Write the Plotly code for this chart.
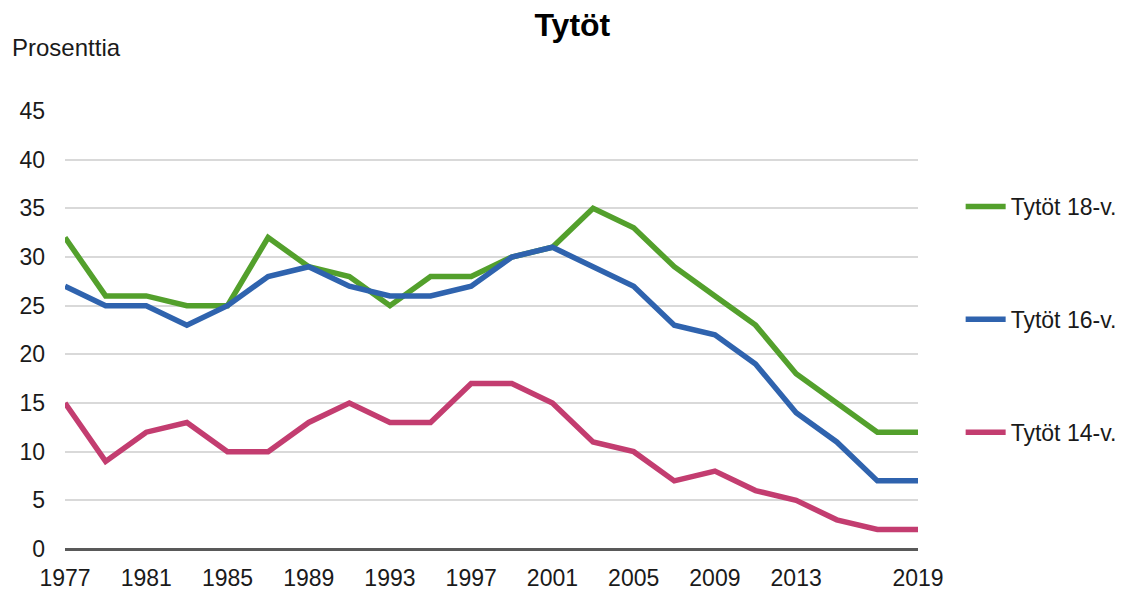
import plotly.graph_objects as go

years = list(range(1977, 2020, 2))
tytot_18 = [32, 26, 26, 25, 25, 32, 29, 28, 25, 28, 28, 30, 31, 35, 33, 29, 26, 23, 18, 15, 12, 12]
tytot_16 = [27, 25, 25, 23, 25, 28, 29, 27, 26, 26, 27, 30, 31, 29, 27, 23, 22, 19, 14, 11, 7, 7]
tytot_14 = [15, 9, 12, 13, 10, 10, 13, 15, 13, 13, 17, 17, 15, 11, 10, 7, 8, 6, 5, 3, 2, 2]
x_ticks = [1977, 1981, 1985, 1989, 1993, 1997, 2001, 2005, 2009, 2013, 2019]
y_ticks = [0, 5, 10, 15, 20, 25, 30, 35, 40, 45]

series = [
    ("Tytöt 18-v.", tytot_18, "#53a02c"),
    ("Tytöt 16-v.", tytot_16, "#2f63ae"),
    ("Tytöt 14-v.", tytot_14, "#c33d70"),
]

FONT = "Liberation Sans, Arial, sans-serif"

fig = go.Figure()
for name, vals, color in series:
    fig.add_trace(go.Scatter(
        x=years, y=vals, name=name, mode="lines",
        line=dict(color=color, width=5.5),
        legendgroup=name, cliponaxis=False,
    ))

# the page body has an 8px margin, so the figure is drawn 8px smaller
fig.update_layout(
    width=1122, height=586,
    margin=dict(l=57, r=212, t=103, b=45, autoexpand=False),
    plot_bgcolor="white", paper_bgcolor="white",
    font=dict(family=FONT, size=23, color="#1a1a1a"),
    title=dict(text="<b>Tytöt</b>", x=0.503, xanchor="center", y=0.972, yanchor="middle",
               font=dict(size=32, color="black")),
    legend=dict(x=1.05, xanchor="left", y=0.831, yanchor="top",
                tracegroupgap=80, traceorder="grouped",
                font=dict(size=23, color="#1a1a1a"), itemwidth=40),
    annotations=[dict(text="Prosenttia", xref="paper", yref="paper", x=-0.0645, y=1.144,
                      xanchor="left", yanchor="middle", showarrow=False,
                      font=dict(size=24, color="#1a1a1a"))],
)
fig.update_xaxes(range=[1977, 2019], tickvals=x_ticks, showgrid=False, automargin=False,
                 showline=False, zeroline=False, ticks="", ticklabelstandoff=13)
fig.update_yaxes(range=[0, 45], tickvals=y_ticks, showgrid=True, gridcolor="#d9d9d9",
                 gridwidth=1.5, zeroline=True, zerolinecolor="#595959", zerolinewidth=3,
                 ticks="", ticklabelstandoff=19, automargin=False)

fig.write_html("out.html")
